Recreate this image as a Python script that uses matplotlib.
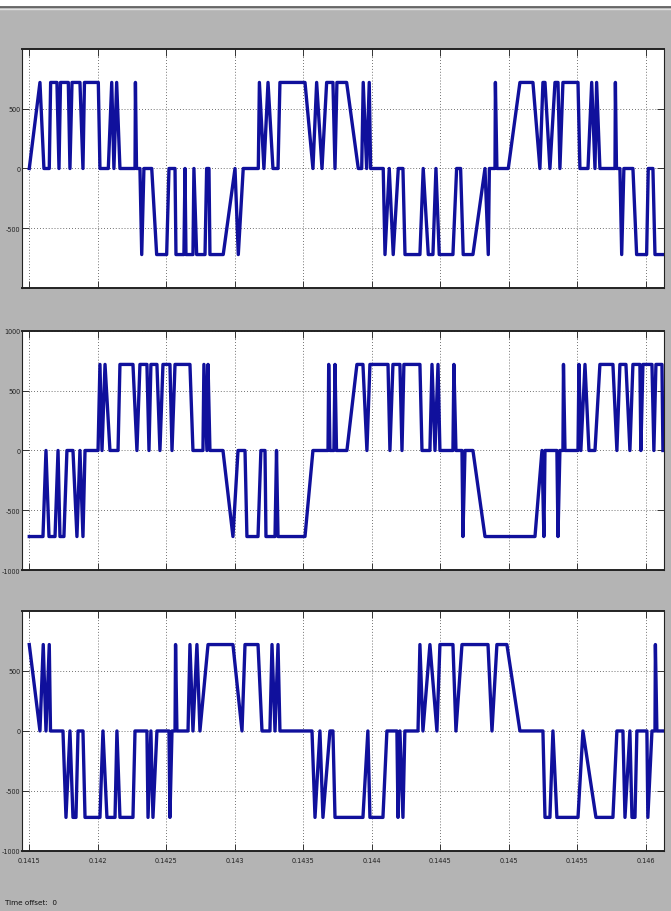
import numpy as np
import matplotlib.pyplot as plt
from matplotlib.lines import Line2D
from matplotlib import font_manager

# scope traces: time offset from 0.1415 s in microseconds, state -1/0/+1
amp = 720  # volts of the upper/lower level

p1_us = [0, 78, 107, 146, 156, 202, 217, 228, 285, 297, 312, 370, 392, 403, 504, 516,
         577, 602, 618, 638, 662, 772, 775, 783, 808, 821, 837, 894, 930, 1003, 1020,
         1064, 1071, 1129, 1137, 1144, 1195, 1202, 1222, 1283, 1295, 1312, 1319, 1416,
         1502, 1526, 1562, 1672, 1680, 1713, 1743, 1779, 1816, 1830, 2013, 2071, 2098,
         2137, 2171, 2217, 2232, 2246, 2317, 2402, 2427, 2438, 2463, 2482, 2492, 2584,
         2597, 2628, 2657, 2694, 2728, 2743, 2852, 2876, 2913, 2947, 2969, 2993, 3093,
         3120, 3149, 3168, 3239, 3327, 3351, 3359, 3400, 3403, 3414, 3497, 3582, 3677,
         3728, 3750, 3765, 3801, 3838, 3860, 3874, 3896, 4006, 4020, 4079, 4106, 4130,
         4142, 4166, 4276, 4279, 4287, 4312, 4325, 4341, 4407, 4434, 4507, 4519, 4553,
         4568, 4628]
p1_st = [0, 1, 0, 0, 1, 1, 0, 1, 1, 0, 1, 1, 0, 1, 1, 0,
         0, 1, 0, 1, 0, 0, 1, 0, 0, -1, 0, 0, -1, -1, 0,
         0, -1, -1, 0, -1, -1, 0, -1, -1, 0, 0, -1, -1,
         0, -1, 0, 0, 1, 0, 1, 0, 0, 1, 1, 0, 1,
         0, 1, 1, 0, 1, 1, 0, 0, 1, 0, 1, 0, 0,
         -1, 0, -1, 0, 0, -1, -1, 0, -1, -1, 0, -1, -1,
         0, 0, -1, -1, 0, -1, 0, 0, 1, 0, 0, 1, 1,
         0, 1, 1, 0, 1, 1, 0, 1, 1, 0, 0, 1, 0,
         1, 0, 0, 1, 0, 0, -1, 0, 0, -1, -1, 0, 0,
         -1, -1]

p2_us = [0, 100, 122, 144, 188, 210, 224, 253, 275, 319, 348, 370, 392, 407, 502, 516,
         531, 553, 589, 648, 662, 757, 786, 808, 859, 874, 888, 932, 954, 976, 1027,
         1042, 1064, 1173, 1195, 1268, 1275, 1297, 1305, 1319, 1414, 1487, 1524, 1575,
         1589, 1670, 1691, 1721, 1728, 1794, 1805, 1816, 2013, 2071, 2181, 2186, 2195,
         2224, 2232, 2243, 2319, 2392, 2436, 2465, 2487, 2619, 2633, 2655, 2706, 2721,
         2735, 2852, 2867, 2925, 2940, 2962, 2984, 2998, 3093, 3100, 3115, 3159, 3166,
         3181, 3239, 3327, 3692, 3743, 3757, 3765, 3852, 3860, 3874, 3896, 3900, 3911,
         4006, 4013, 4027, 4057, 4086, 4130, 4166, 4261, 4290, 4312, 4356, 4385, 4407,
         4458, 4465, 4480, 4546, 4560, 4575, 4619, 4626]
p2_st = [-1, -1, 0, -1, -1, 0, -1, -1, 0, 0, -1, 0, -1, 0, 0, 1,
         0, 1, 0, 0, 1, 1, 0, 1, 1, 0, 1, 1, 0, 1, 1,
         0, 1, 1, 0, 0, 1, 0, 1, 0, 0, -1, 0, 0,
         -1, -1, 0, 0, -1, -1, 0, -1, -1, 0, 0, 1, 0,
         0, 1, 0, 0, 1, 1, 0, 1, 1, 0, 1, 1, 0,
         1, 1, 0, 0, 1, 0, 1, 0, 0, 1, 0, 0, -1,
         0, 0, -1, -1, 0, -1, 0, 0, -1, 0, 0, 1, 0,
         0, 1, 0, 1, 0, 0, 1, 1, 0, 1, 1, 0, 1,
         1, 0, 1, 1, 0, 1, 1, 0]

p3_us = [0, 78, 102, 122, 146, 155, 246, 268, 297, 319, 341, 356, 392, 407, 516, 538,
         567, 626, 640, 662, 757, 772, 859, 867, 888, 903, 932, 1020, 1027, 1042, 1064,
         1068, 1078, 1159, 1173, 1195, 1224, 1246, 1305, 1487, 1553, 1575, 1670, 1699,
         1757, 1772, 1794, 1816, 1830, 2064, 2086, 2122, 2144, 2195, 2217, 2232, 2436,
         2472, 2487, 2582, 2611, 2684, 2692, 2706, 2728, 2742, 2838, 2852, 2874, 2925,
         2976, 2998, 3093, 3115, 3159, 3349, 3378, 3414, 3487, 3582, 3750, 3765, 3801,
         3823, 3852, 4006, 4042, 4137, 4261, 4290, 4334, 4349, 4385, 4400, 4422, 4436,
         4509, 4516, 4546, 4568, 4571, 4582, 4626]
p3_st = [1, 0, 1, 0, 1, 0, 0, -1, 0, -1, -1, 0, 0, -1, -1, 0,
         -1, -1, 0, -1, -1, 0, 0, -1, 0, -1, 0, 0, -1, 0, 0,
         1, 0, 0, 1, 0, 1, 0, 1, 1, 0, 1, 1, 0,
         0, 1, 0, 1, 0, 0, -1, 0, -1, 0, 0, -1, -1,
         0, -1, -1, 0, 0, -1, 0, -1, 0, 0, 1, 0, 1,
         0, 1, 1, 0, 1, 1, 0, 1, 1, 0, 0, -1, -1,
         0, -1, -1, 0, -1, -1, 0, 0, -1, 0, -1, -1, 0,
         0, -1, 0, 0, 1, 0, 0]

xticks = [0.1415, 0.142, 0.1425, 0.143, 0.1435, 0.144, 0.1445, 0.145, 0.1455, 0.146]
xtick_labels = ['0.1415', '0.142', '0.1425', '0.143', '0.1435', '0.144', '0.1445',
                '0.145', '0.1455', '0.146']
yticks_list = [[-500, 0, 500], [-1000, -500, 0, 500, 1000], [-1000, -500, 0, 500]]

t0 = 0.1415
panels = [(p1_us, p1_st), (p2_us, p2_st), (p3_us, p3_st)]

# narrow font if one is installed, as on the scope
names = {f.name for f in font_manager.fontManager.ttflist}
narrow = 'Liberation Sans Narrow' in names
font = ['Liberation Sans Narrow', 'DejaVu Sans'] if narrow else ['DejaVu Sans']
fs = 6 if narrow else 5.2

fig = plt.figure(figsize=(6.71, 9.12), dpi=100, facecolor='#b4b4b4')

# window strip at the top
fig.add_artist(plt.Rectangle((0, 1 - 7 / 912), 1, 7 / 912, transform=fig.transFigure,
                             color='white', zorder=0))
fig.add_artist(Line2D([0, 1], [1 - 7.5 / 912] * 2, transform=fig.transFigure,
                      color='#555555', lw=1.2))
fig.add_artist(Line2D([0, 1], [1 - 10 / 912] * 2, transform=fig.transFigure,
                      color='#e0e0e0', lw=1.0))

rects = [[0.0328, 0.6831, 0.9572, 0.2621],
         [0.0328, 0.3739, 0.9572, 0.2621],
         [0.0328, 0.0658, 0.9572, 0.2632]]

for i, (us, st) in enumerate(panels):
    ax = fig.add_axes(rects[i])
    t = t0 + np.array(us) * 1e-6
    v = np.array(st) * amp
    ax.plot(t, v, color='#10109c', lw=2.4)
    ax.set_xlim(t0 - 53e-6, t0 + 4636e-6)
    ax.set_ylim(-1000, 1000)
    ax.set_xticks(xticks)
    ax.set_yticks(yticks_list[i])
    ax.set_yticklabels([str(y) for y in yticks_list[i]], family=font, fontsize=fs,
                       stretch='condensed')
    if i == 2:
        ax.set_xticklabels(xtick_labels, family=font, fontsize=fs, stretch='condensed')
    else:
        ax.set_xticklabels([])
    ax.grid(True, linestyle=(0, (1, 2.5)), color='#444444', lw=0.6)
    ax.tick_params(direction='in', top=True, right=True, length=5, width=0.7,
                   color='#333333', labelcolor='#222222', pad=1)
    ax.tick_params(axis='x', pad=4)
    for s in ax.spines.values():
        s.set_linewidth(0.8)
        s.set_color('#222222')
    ax.spines['top'].set_linewidth(1.4)
    ax.spines['bottom'].set_linewidth(1.4)

fig.text(5 / 671, 1 - 903 / 912, 'Time offset:  0', family=font, fontsize=fs,
         color='#111111', va='center')

fig.savefig('out.png', dpi=100, facecolor=fig.get_facecolor())
